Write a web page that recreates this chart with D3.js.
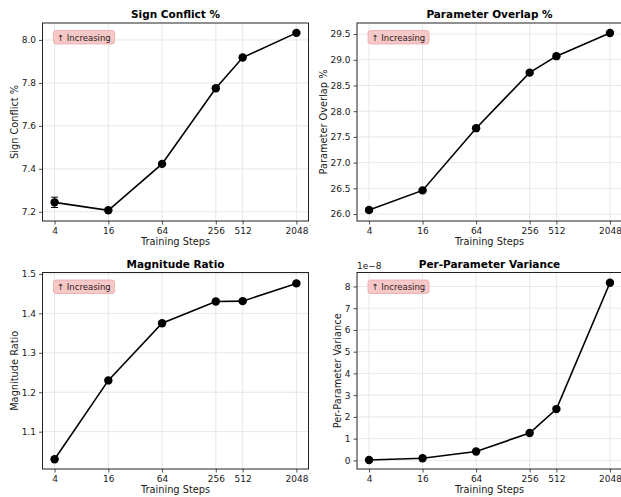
<!DOCTYPE html>
<html>
  <head>
    <script src="https://d3js.org/d3.v7.min.js"></script>
    <style>
      body { margin: 0; background: #fff; }
      text { font-family: "DejaVu Sans", sans-serif; }
    </style>
  </head>
  <body>
    <div id="container"></div>

    <script type="text/javascript">
      // Data
      var steps = [4, 16, 64, 256, 512, 2048];
      var stepLabels = ["4", "16", "64", "256", "512", "2048"];

      var signConflict = [7.244, 7.207, 7.423, 7.775, 7.918, 8.033];
      var signConflictErr = [0.024, 0.008, 0.006, 0.008, 0.006, 0.004];

      var paramOverlap = [26.08, 26.46, 27.67, 28.75, 29.07, 29.52];
      var paramOverlapErr = [0.04, 0.03, 0.03, 0.03, 0.03, 0.02];

      var magRatio = [1.030, 1.230, 1.375, 1.430, 1.431, 1.476];
      var magRatioErr = [0.002, 0.004, 0.003, 0.003, 0.003, 0.005];

      // in units of 1e-8
      var variance = [0.02, 0.10, 0.41, 1.26, 2.36, 8.17];
      var varianceErr = [0.005, 0.01, 0.02, 0.03, 0.04, 0.06];

      var panels = [
        { title: "Sign Conflict %", ylabel: "Sign Conflict %", values: signConflict, errs: signConflictErr,
          ticks: [7.2, 7.4, 7.6, 7.8, 8.0], fmt: d3.format(".1f"),
          left: 42.5, top: 23, width: 266, height: 198 },
        { title: "Parameter Overlap %", ylabel: "Parameter Overlap %", values: paramOverlap, errs: paramOverlapErr,
          ticks: [26.0, 26.5, 27.0, 27.5, 28.0, 28.5, 29.0, 29.5], fmt: d3.format(".1f"),
          left: 357, top: 23, width: 265, height: 198 },
        { title: "Magnitude Ratio", ylabel: "Magnitude Ratio", values: magRatio, errs: magRatioErr,
          ticks: [1.1, 1.2, 1.3, 1.4, 1.5], fmt: d3.format(".1f"),
          left: 42.5, top: 272.5, width: 266, height: 196.5 },
        { title: "Per-Parameter Variance", ylabel: "Per-Parameter Variance", values: variance, errs: varianceErr,
          ticks: [0, 1, 2, 3, 4, 5, 6, 7, 8], fmt: d3.format("d"), offset: "1e\u22128",
          left: 357, top: 272.5, width: 265, height: 196.5 }
      ];

      var svg = d3.select("#container").append("svg")
        .attr("width", 621)
        .attr("height", 497)
        .style("background", "#fff");

      panels.forEach(drawPanel);

      function drawPanel(p) {
        var w = p.width, h = p.height;
        var g = svg.append("g").attr("transform", "translate(" + p.left + "," + p.top + ")");

        // log2 x axis with matplotlib-like 5% margins
        var x = d3.scaleLog().base(2)
          .domain([4 / Math.pow(2, 0.45), 2048 * Math.pow(2, 0.45)])
          .range([0, w]);

        var lo = d3.min(p.values, function(v, i) { return v - p.errs[i]; });
        var hi = d3.max(p.values, function(v, i) { return v + p.errs[i]; });
        var pad = (hi - lo) * 0.05;
        var y = d3.scaleLinear().domain([lo - pad, hi + pad]).range([h, 0]);

        // grid
        g.append("g").selectAll("line.gx").data(steps).enter().append("line")
          .attr("x1", function(d) { return x(d); }).attr("x2", function(d) { return x(d); })
          .attr("y1", 0).attr("y2", h)
          .attr("stroke", "#e2e2e2").attr("stroke-width", 0.8);
        g.append("g").selectAll("line.gy").data(p.ticks).enter().append("line")
          .attr("x1", 0).attr("x2", w)
          .attr("y1", function(d) { return y(d); }).attr("y2", function(d) { return y(d); })
          .attr("stroke", "#e2e2e2").attr("stroke-width", 0.8);

        // axes
        var xAxis = g.append("g").attr("transform", "translate(0," + h + ")")
          .call(d3.axisBottom(x).tickValues(steps)
            .tickFormat(function(d, i) { return stepLabels[i]; })
            .tickSize(3.5).tickPadding(3));
        var yAxis = g.append("g")
          .call(d3.axisLeft(y).tickValues(p.ticks).tickFormat(p.fmt).tickSize(3.5).tickPadding(3));

        [xAxis, yAxis].forEach(function(a) {
          a.select(".domain").remove();
          a.selectAll("line").attr("stroke", "#222").attr("stroke-width", 0.8);
          a.selectAll("text").attr("font-size", 9).attr("fill", "#1a1a1a")
            .style("font-family", "'DejaVu Sans', sans-serif");
        });

        // frame
        g.append("rect").attr("x", 0).attr("y", 0).attr("width", w).attr("height", h)
          .attr("fill", "none").attr("stroke", "#222").attr("stroke-width", 1);

        // line
        var pts = steps.map(function(s, i) { return [s, p.values[i], p.errs[i]]; });
        g.append("path").datum(pts)
          .attr("fill", "none").attr("stroke", "#000").attr("stroke-width", 1.6)
          .attr("d", d3.line().x(function(d) { return x(d[0]); }).y(function(d) { return y(d[1]); }));

        // error bars
        var eb = g.append("g").selectAll("g").data(pts).enter().append("g");
        eb.append("line")
          .attr("x1", function(d) { return x(d[0]); }).attr("x2", function(d) { return x(d[0]); })
          .attr("y1", function(d) { return y(d[1] - d[2]); }).attr("y2", function(d) { return y(d[1] + d[2]); })
          .attr("stroke", "#000").attr("stroke-width", 1);
        [-1, 1].forEach(function(sgn) {
          eb.append("line")
            .attr("x1", function(d) { return x(d[0]) - 3.5; }).attr("x2", function(d) { return x(d[0]) + 3.5; })
            .attr("y1", function(d) { return y(d[1] + sgn * d[2]); })
            .attr("y2", function(d) { return y(d[1] + sgn * d[2]); })
            .attr("stroke", "#000").attr("stroke-width", 1);
        });

        // markers
        g.append("g").selectAll("circle").data(pts).enter().append("circle")
          .attr("cx", function(d) { return x(d[0]); })
          .attr("cy", function(d) { return y(d[1]); })
          .attr("r", 4.2).attr("fill", "#000");

        // badge
        var badge = g.append("g").attr("transform", "translate(" + 11 + "," + 7.5 + ")");
        badge.append("rect").attr("width", 61).attr("height", 13.5).attr("rx", 2.5)
          .attr("fill", "#f7c8c8").attr("stroke", "#eaa8a8").attr("stroke-width", 0.8);
        badge.append("text").attr("x", 3.5).attr("y", 10)
          .attr("font-size", 8.5).attr("fill", "#2a1a1a")
          .text("\u2191 Increasing");

        // title
        g.append("text").attr("x", w / 2).attr("y", -5)
          .attr("text-anchor", "middle").attr("font-size", 10.5).attr("font-weight", "bold")
          .text(p.title);

        // x label
        g.append("text").attr("x", w / 2).attr("y", h + 24)
          .attr("text-anchor", "middle").attr("font-size", 9.8).attr("fill", "#1a1a1a")
          .text("Training Steps");

        // y label, placed left of the widest tick label
        var bb = yAxis.node().getBBox();
        g.append("text")
          .attr("transform", "translate(" + (bb.x - 3.5) + "," + (h / 2) + ") rotate(-90)")
          .attr("text-anchor", "middle").attr("font-size", 9.8).attr("fill", "#1a1a1a")
          .text(p.ylabel);

        if (p.offset) {
          g.append("text").attr("x", 0).attr("y", -4)
            .attr("font-size", 9).attr("fill", "#1a1a1a")
            .text(p.offset);
        }
      }
    </script>
  </body>
</html>
